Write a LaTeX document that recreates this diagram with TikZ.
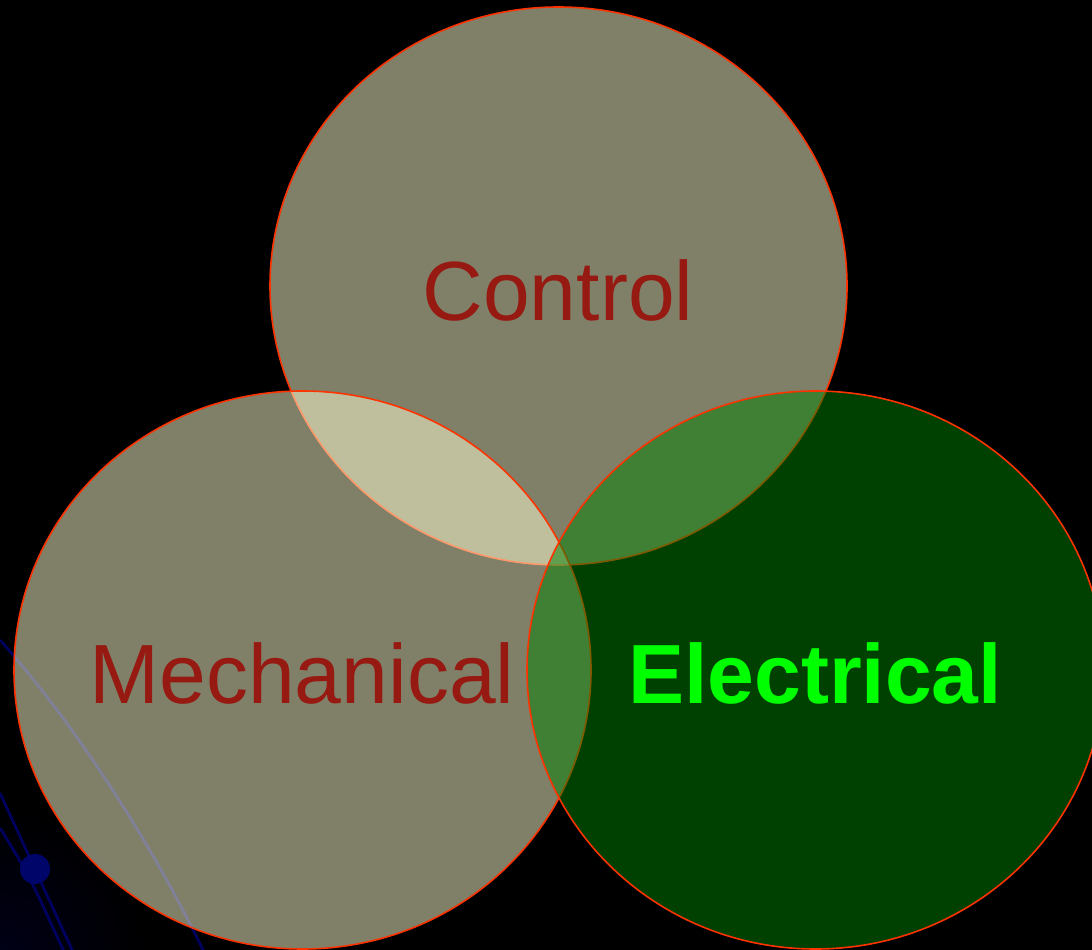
\documentclass[tikz,border=0pt]{standalone}
\usepackage{fontspec}
\setmainfont{Liberation Sans}
\definecolor{rimred}{RGB}{255,51,0}
\definecolor{paleyel}{RGB}{255,255,210}
\definecolor{elgreen}{RGB}{0,128,0}
\definecolor{labred}{RGB}{150,26,18}
\definecolor{labgreen}{RGB}{0,255,0}
\definecolor{wirenavy}{RGB}{0,0,95}
\definecolor{dotnavy}{RGB}{0,6,105}
\begin{document}
\begin{tikzpicture}[x=0.01cm,y=-0.01cm,
    disc/.style={draw=rimred,line width=0.45pt,fill opacity=0.5},
    wire/.style={draw=wirenavy,line width=0.8pt},
    lab/.style={anchor=base,inner sep=0pt,font=\fontsize{23.9}{28}\selectfont}]
\useasboundingbox (0,0) rectangle (1092,949);
\clip (-5,-5) rectangle (1097,954);
\fill[black] (-5,-5) rectangle (1097,954);
\shade[inner color=blue!9!black,outer color=black] (0,954) circle (150);
\coordinate (ctl) at (558.5,286);
\coordinate (mec) at (302.5,670);
\coordinate (ele) at (815.5,670);
\draw[wire] (0,640) .. controls (80,730) and (155,850) .. (205,954);
\draw[wire] (0,793) -- (74,954);
\draw[wire] (0,828) .. controls (29,875) .. (65,954);
\fill[dotnavy] (35,869) circle (15);
\path[disc,fill=paleyel] (ctl) ellipse [x radius=288.5,y radius=279];
\path[disc,fill=paleyel] (mec) ellipse [x radius=288.5,y radius=279];
\path[disc,fill=elgreen] (ele) ellipse [x radius=288.5,y radius=279];
\node[lab,text=labred] (control) at (558,320) {Control};
\node[lab,text=labred] (mechanical) at (302,703) {Mechanical};
\node[lab,text=labgreen,font=\fontsize{23.9}{28}\selectfont\bfseries] (electrical) at (815,703) {Electrical};
\end{tikzpicture}
\end{document}
